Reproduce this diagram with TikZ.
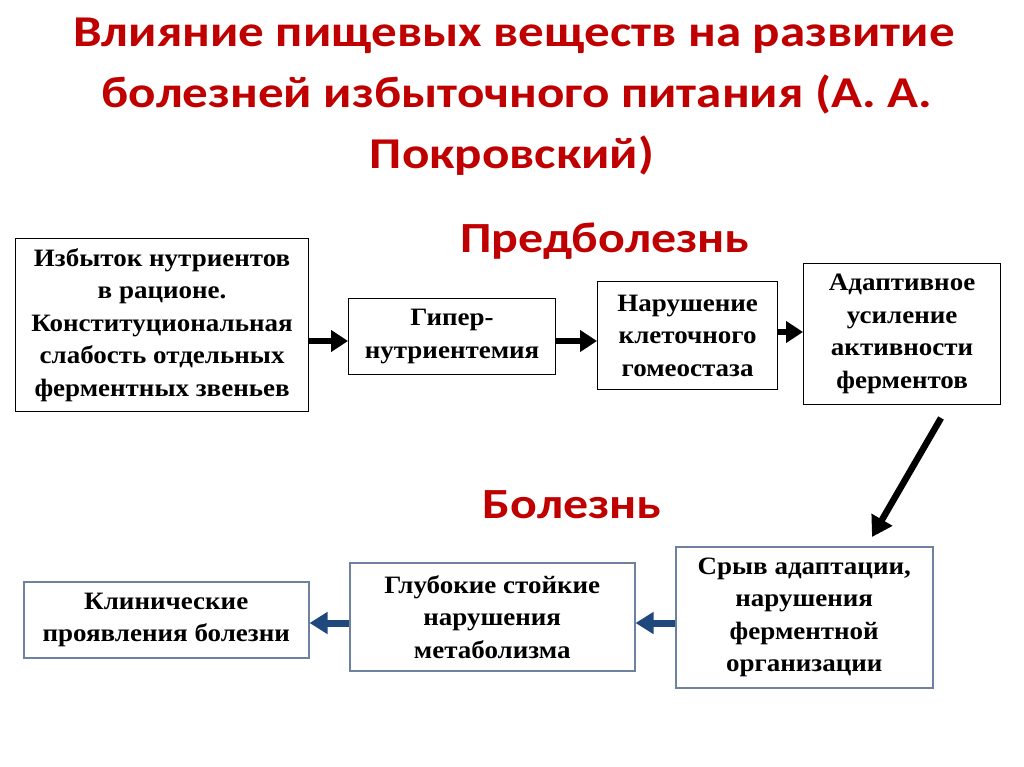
\documentclass[tikz,border=0pt]{standalone}
\usepackage{fontspec}
\setmainfont{Liberation Serif}[FakeStretch=1.08]
\newfontfamily\titlefont{Carlito}[FakeStretch=1.16]
\usetikzlibrary{arrows.meta}
\definecolor{titlered}{RGB}{192,0,0}
\definecolor{boxblue}{RGB}{110,130,160}
\definecolor{arrblue}{RGB}{31,73,125}
\tikzset{
  x=1pt,y=-1pt,
  ttl/.style={text=titlered,font=\titlefont\bfseries\fontsize{44}{50}\selectfont,inner sep=0,anchor=base},
  sect/.style={text=titlered,font=\titlefont\bfseries\fontsize{43}{50}\selectfont,inner sep=0,anchor=base},
  boxtext/.style={anchor=north west,inner sep=0,align=center,
    font=\bfseries\fontsize{25}{32.5}\selectfont,execute at begin node={\rule{0pt}{31pt}}},
  topbox/.style={boxtext,draw=black,line width=1.2pt},
  botbox/.style={boxtext,draw=boxblue,line width=1.5pt},
  blackarr/.style={draw=black,line width=6.5pt,-{Triangle[length=17pt,width=21pt]}},
  bluearr/.style={draw=arrblue,line width=7pt,-{Triangle[length=18pt,width=21pt]}},
  diagarr/.style={draw=black,line width=6.5pt,-{Triangle[length=20pt,width=23pt]}}
}
\begin{document}
\begin{tikzpicture}
\useasboundingbox[fill=white] (0,0) rectangle (1024,767);
% title
\node[ttl] (t1) at (514,47) {Влияние пищевых веществ на развитие};
\node[ttl] (t2) at (517,108) {болезней избыточного питания (А. А.};
\node[ttl] (t3) at (512,169) {Покровский)};
\node[sect] (pre) at (605,252) {Предболезнь};
\node[sect] (dis) at (572,518) {Болезнь};
% top row
\node[topbox,minimum width=293,minimum height=173] (b1) at (15,238)
  {Избыток нутриентов\\в рационе.\\Конституциональная\\слабость отдельных\\ферментных звеньев};
\node[topbox,minimum width=207,minimum height=76] (b2) at (348,298)
  {Гипер-\\нутриентемия};
\node[topbox,minimum width=180,minimum height=108] (b3) at (597,281)
  {Нарушение\\клеточного\\гомеостаза};
\node[topbox,minimum width=197,minimum height=141] (b4) at (803,263)
  {Адаптивное\\усиление\\активности\\ферментов};
% bottom row
\node[botbox,minimum width=257,minimum height=141] (b5) at (675,546)
  {Срыв адаптации,\\нарушения\\ферментной\\организации};
\node[botbox,minimum width=285,minimum height=108] (b6) at (349,562)
  {Глубокие стойкие\\нарушения\\метаболизма};
\node[botbox,minimum width=285,minimum height=76] (b7) at (23,581)
  {Клинические\\проявления болезни};
% arrows
\coordinate (ya) at (0,341);
\coordinate (yb) at (0,332);
\coordinate (yc) at (0,623);
\draw[blackarr] (b1.east |- ya) -- (b2.west |- ya);
\draw[blackarr] (b2.east |- ya) -- (b3.west |- ya);
\draw[blackarr] (b3.east |- yb) -- (b4.west |- yb);
\coordinate (ds) at (941,418);
\coordinate (de) at (872,537);
\draw[diagarr] (ds) -- (de);
\draw[bluearr] (b5.west |- yc) -- (b6.east |- yc);
\draw[bluearr] (b6.west |- yc) -- (b7.east |- yc);
\end{tikzpicture}
\end{document}
